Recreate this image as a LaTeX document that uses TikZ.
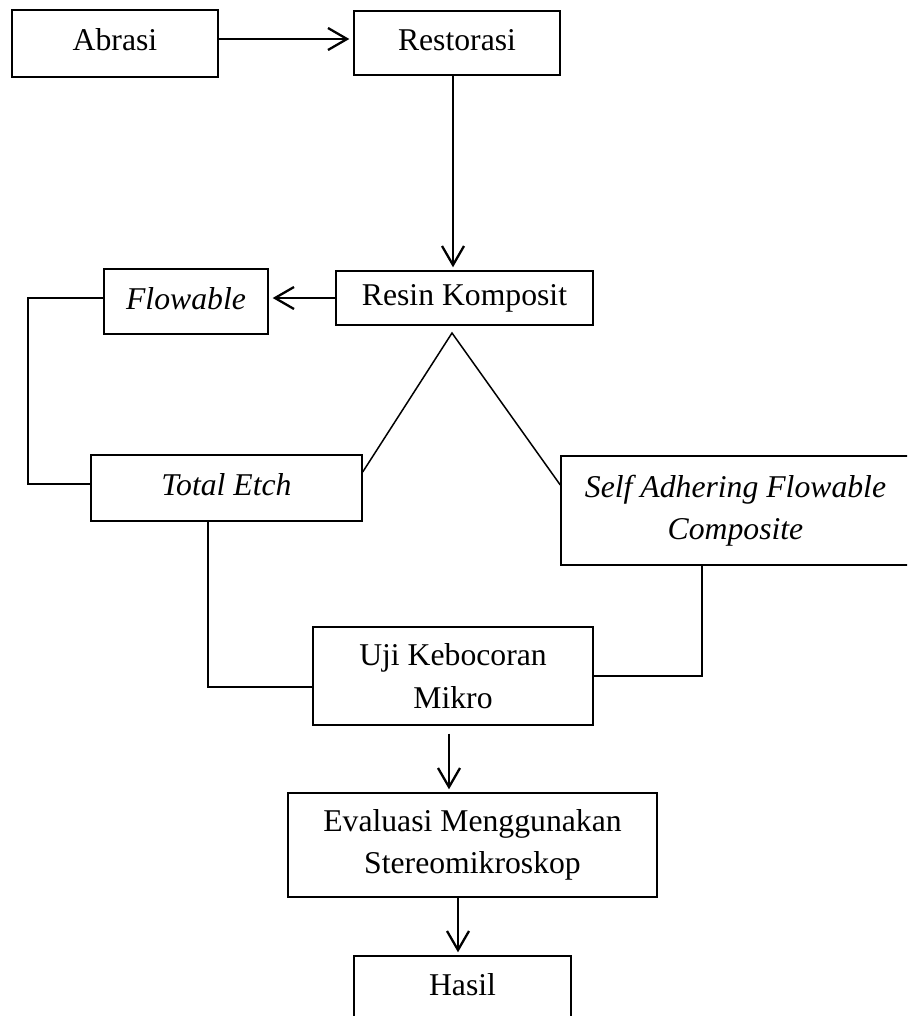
\documentclass[tikz,border=0pt]{standalone}
\usepackage{fontspec}
\setmainfont{Liberation Serif}
\usetikzlibrary{arrows.meta}
\begin{document}
\begin{tikzpicture}[x=1pt,y=-1pt,
  box/.style={draw, line width=1.4pt, inner sep=0pt, font=\fontsize{31.7}{42.5}\selectfont},
  itbox/.style={box, font=\fontsize{31.7}{42.5}\selectfont\itshape},
  one/.style={text height=22pt, text depth=7pt},
  two/.style={align=center},
  arr/.style={line width=2.3pt, -{Straight Barb[length=19pt,width=22pt]}},
  link/.style={line width=2.3pt},
  vee/.style={line width=1.5pt}]
\path[use as bounding box, clip] (0,0) rectangle (907,1016);

\node[box,one,minimum width=206pt,minimum height=67pt] (abr) at (115,43.5) {Abrasi};
\node[box,one,minimum width=206pt,minimum height=64pt] (res) at (457,43) {Restorasi};
\node[box,one,minimum width=257pt,minimum height=54pt] (rk) at (464.5,298) {Resin Komposit};
\node[itbox,one,minimum width=164pt,minimum height=65pt] (flo) at (186,301.5) {Flowable};
\node[itbox,one,minimum width=271pt,minimum height=66pt] (te) at (226.5,488) {Total Etch};
\node[itbox,two,minimum width=349pt,minimum height=109pt] (sa) at (735.5,510.5) {Self Adhering Flowable\\Composite};
\node[box,two,minimum width=280pt,minimum height=98pt] (uji) at (453,676) {Uji Kebocoran\\Mikro};
\node[box,two,minimum width=369pt,minimum height=104pt] (ev) at (472.5,845) {Evaluasi Menggunakan\\Stereomikroskop};
\node[box,one,minimum width=217pt,minimum height=64pt] (has) at (462.5,988) {Hasil};

\coordinate (ya) at (0,39);
\coordinate (xa) at (453,0);
\coordinate (yb) at (0,298);
\coordinate (xl) at (28,0);
\coordinate (yc) at (0,484);
\coordinate (apex) at (452,333);
\coordinate (yd) at (0,472);
\coordinate (ye) at (0,485);
\coordinate (xt) at (208,0);
\coordinate (yf) at (0,687);
\coordinate (xs) at (702,0);
\coordinate (yg) at (0,676);
\coordinate (xu) at (449,0);
\coordinate (xe) at (458,0);

\draw[arr, shorten >=4pt] (abr.east |- ya) -- (res.west |- ya);
\draw[arr, shorten >=3pt] (xa |- res.south) -- (xa |- rk.north);
\draw[arr, shorten >=4pt] (rk.west |- yb) -- (flo.east |- yb);
\draw[link] (flo.west |- yb) -| (xl |- yc) -- (te.west |- yc);
\draw[vee] (te.east |- yd) -- (apex) -- (sa.west |- ye);
\draw[link] (xt |- te.south) |- (uji.west |- yf);
\draw[link] (xs |- sa.south) |- (uji.east |- yg);
\draw[arr, shorten <=8pt, shorten >=3pt] (xu |- uji.south) -- (xu |- ev.north);
\draw[arr, shorten >=3pt] (xe |- ev.south) -- (xe |- has.north);
\end{tikzpicture}
\end{document}
